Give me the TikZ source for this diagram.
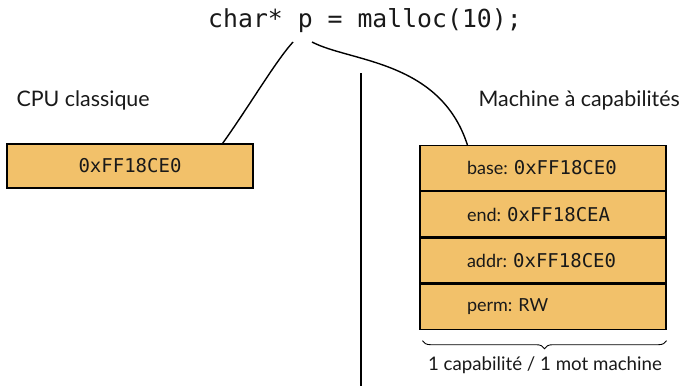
\documentclass[tikz,border=0pt]{standalone}
\usepackage{fontspec}
\setmainfont{Lato}
\setmonofont{DejaVu Sans Mono}
\usepackage{tikz}
\usetikzlibrary{positioning,calc,decorations.pathreplacing}
\definecolor{OrangeMot}{RGB}{242,193,106}
\definecolor{GrisTexte}{RGB}{25,25,25}
\newcommand{\adr}[1]{{\ttfamily\fontsize{19}{22}\selectfont #1}}

\begin{document}
\begin{tikzpicture}[x=1pt,y=-1pt,
  mot/.style={draw=black,line width=1.2pt,fill=OrangeMot,text=GrisTexte,
    minimum width=246pt,minimum height=44pt,inner sep=0pt,
    font=\fontsize{18}{22}\selectfont},
  champ/.style={mot,minimum height=45pt,text width=152pt,align=left,inner xsep=47pt},
  titre/.style={anchor=base west,text=GrisTexte,font=\fontsize{21.4}{26}\selectfont},
  lien/.style={line width=1.4pt}]
  \useasboundingbox (0,0) rectangle (684,386);
  \node[anchor=base,text=GrisTexte,font=\ttfamily\fontsize{24.8}{30}\selectfont]
    (code) at (365,27.5) {char* p = malloc(10);};
  \coordinate (pgauche) at (293,42);
  \coordinate (pdroite) at (312,42);
  \coordinate (septop) at (361,73);
  \coordinate (sepbas) at (361,386);
  \draw[line width=1.6pt] (septop) -- (sepbas);

  \node[titre] (cpu) at (13,106) {CPU classique};
  \node[mot] (cpuword) at (130,166) {\adr{0xFF18CE0}};

  \node[titre] (capmachine) at (475,106.5) {Machine à capabilités};
  \node[champ] (capbase) at (543,168) {base:~\adr{0xFF18CE0}};
  \node[champ,below=0pt of capbase] (capend) {end:~\adr{0xFF18CEA}};
  \node[champ,below=0pt of capend] (capaddr) {addr:~\adr{0xFF18CE0}};
  \node[champ,below=0pt of capaddr] (capperm) {perm:~RW};

  \draw[lien] (pgauche) .. controls (275,62) and (250,105) .. ([xshift=-31pt]cpuword.north east);
  \draw[lien] (pdroite) .. controls (350,62) and (440,60) .. ([xshift=48pt]capbase.north west);

  \coordinate (accg) at ($(capperm.south west)+(3,11)$);
  \coordinate (accd) at ($(capperm.south east)+(0,11)$);
  \draw[line width=0.9pt,decorate,decoration={brace,mirror,amplitude=8pt}] (accg) -- (accd);
  \node[anchor=base,text=GrisTexte,font=\fontsize{18.7}{22}\selectfont]
    (capmot) at (545,370) {1 capabilité / 1 mot machine};
\end{tikzpicture}
\end{document}
